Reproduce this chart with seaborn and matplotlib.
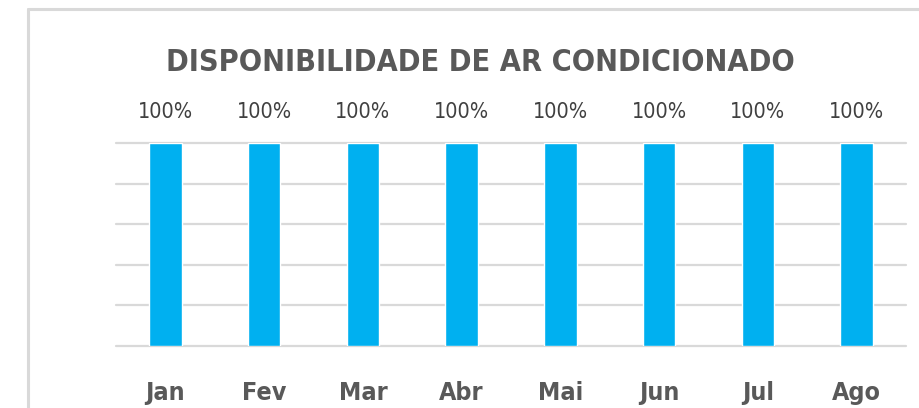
import pandas as pd
import matplotlib.pyplot as plt
import seaborn as sns
from matplotlib.lines import Line2D

meses = ['Jan', 'Fev', 'Mar', 'Abr', 'Mai', 'Jun', 'Jul', 'Ago']
disponibilidade = [1.0, 1.0, 1.0, 1.0, 1.0, 1.0, 1.0, 1.0]
rotulos = ['100%', '100%', '100%', '100%', '100%', '100%', '100%', '100%']

sns.set_style('white')
plt.rcParams['font.family'] = ['DejaVu Sans']
plt.rcParams['font.stretch'] = 'condensed'

df = pd.DataFrame({'mes': meses, 'disp': disponibilidade})

fig = plt.figure(figsize=(9.2, 4.08), dpi=100)
ax = fig.add_axes([0.1261, 0.152, 0.8587, 0.4975])

sns.barplot(data=df, x='mes', y='disp', color='#00B0F0', width=0.33,
            saturation=1, ax=ax, zorder=3)

ax.set_ylim(0, 1)
ax.set_xlim(-0.5, len(meses) - 0.5)
ax.set_yticks([0, 0.2, 0.4, 0.6, 0.8, 1.0])
ax.yaxis.grid(True, color='#D9D9D9', linewidth=1.6, zorder=0)
for ln in ax.get_ygridlines():
    ln.set_clip_on(False)
ax.tick_params(axis='y', left=False, labelleft=False)
ax.tick_params(axis='x', bottom=False, pad=22, labelsize=18, labelcolor='#595959')
for t in ax.get_xticklabels():
    t.set_fontweight('bold')
    t.set_fontstretch('condensed')
for s in ax.spines.values():
    s.set_visible(False)
ax.set_xlabel('')
ax.set_ylabel('')

# rotulos de dados
for i, (v, r) in enumerate(zip(disponibilidade, rotulos)):
    ax.annotate(r, (i, v), xytext=(0, 22), textcoords='offset points',
                ha='center', va='center', fontsize=15.5, color='#404040',
                fontstretch='condensed')

fig.text(0.522, 0.848, 'DISPONIBILIDADE DE AR CONDICIONADO', ha='center', va='center',
         fontsize=22, fontweight='bold', color='#595959', fontstretch='condensed')

# borda do grafico
fig.add_artist(Line2D([28 / 920, 28 / 920], [0, 1 - 9 / 408], color='#D9D9D9', linewidth=2.2))
fig.add_artist(Line2D([28 / 920, 1], [1 - 9 / 408, 1 - 9 / 408], color='#D9D9D9', linewidth=2.2))

plt.savefig('out.png', dpi=100)
